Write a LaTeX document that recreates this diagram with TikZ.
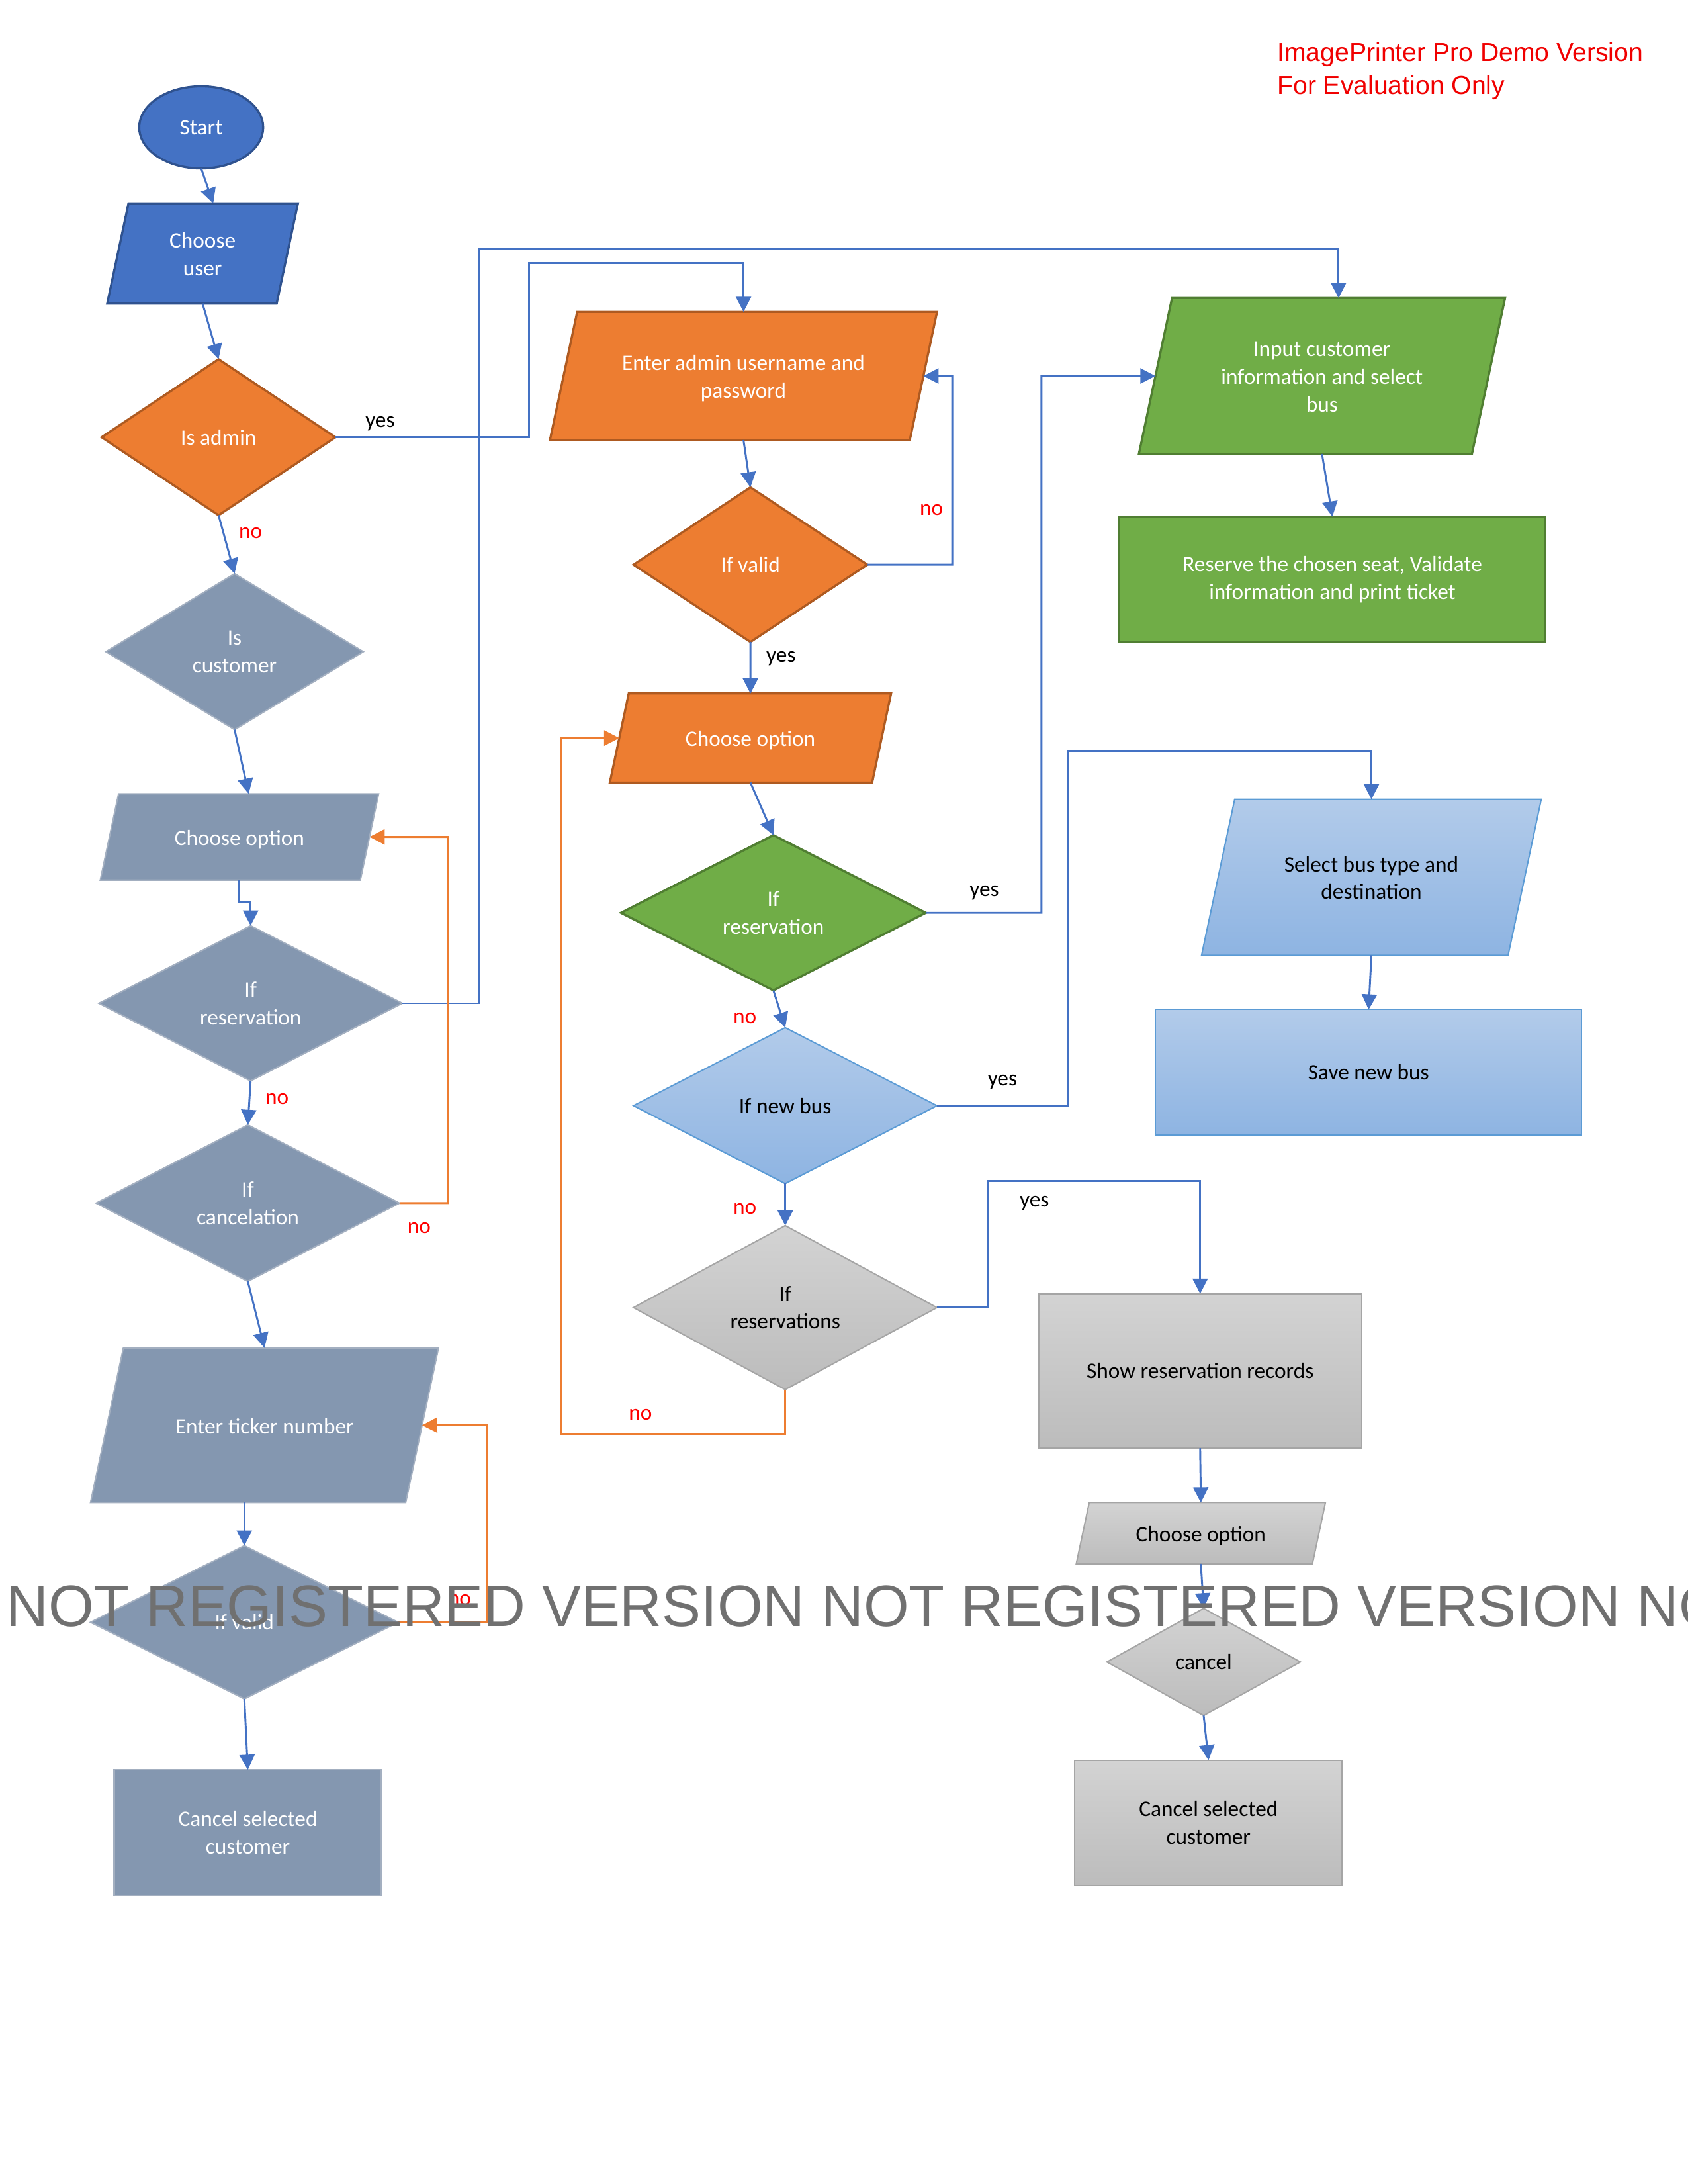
\documentclass[tikz,border=0pt]{standalone}
\usepackage{fontspec}
\setmainfont{Carlito}
\newfontfamily\wmfont{Liberation Sans}
\usetikzlibrary{shapes.geometric,arrows.meta}
\definecolor{bluefill}{HTML}{4472C4}
\definecolor{blueline}{HTML}{2F528F}
\definecolor{orfill}{HTML}{ED7D31}
\definecolor{orline}{HTML}{AE5A21}
\definecolor{grfill}{HTML}{70AD47}
\definecolor{grline}{HTML}{507E32}
\definecolor{slate}{HTML}{8497B0}
\definecolor{slateline}{HTML}{A3AFC0}
\definecolor{lbtop}{HTML}{B2CBEA}
\definecolor{lbbot}{HTML}{8EB4E2}
\definecolor{lbline}{HTML}{5B9BD5}
\definecolor{gytop}{HTML}{D3D3D3}
\definecolor{gybot}{HTML}{BCBCBC}
\definecolor{gyline}{HTML}{A5A5A5}
\definecolor{connblue}{HTML}{4472C4}
\definecolor{nored}{HTML}{FF0000}
\definecolor{wmgray}{HTML}{707070}
\definecolor{wmred}{HTML}{F00000}
\begin{document}
\begin{tikzpicture}
	[x=0.5049pt,y=-0.5049pt,
	sz/.style 2 args={minimum width=#1*0.5049pt,minimum height=#2*0.5049pt},
	iosz/.style n args={3}{minimum width=#1*0.5049pt,text height=(#3-1)*10pt+7pt,text depth=1pt,inner ysep=(#2*0.5049pt-(#3-1)*10pt-8pt)/2},
	box/.style={draw,line width=0.8pt,align=center,inner sep=1pt,outer sep=0pt,text=white,font=\fontsize{8}{10}\selectfont},
	io/.style={box,trapezium,trapezium left angle=78,trapezium right angle=102,trapezium stretches body},
	dec/.style={box,diamond},
	proc/.style={box,rectangle},
	term/.style={box,ellipse},
	bluebox/.style={fill=bluefill,draw=blueline},
	orbox/.style={fill=orfill,draw=orline},
	grbox/.style={fill=grfill,draw=grline},
	slbox/.style={fill=slate,draw=slateline,line width=0.5pt},
	lbbox/.style={top color=lbtop,bottom color=lbbot,draw=lbline,text=black,line width=0.5pt},
	gybox/.style={top color=gytop,bottom color=gybot,draw=gyline,text=black,line width=0.5pt},
	conn/.style={draw=connblue,line width=0.7pt,-{Triangle[length=5.5pt,width=5.5pt]}},
	connor/.style={conn,draw=orfill},
	yeslab/.style={font=\fontsize{8}{10}\selectfont,inner sep=0pt},
	nolab/.style={yeslab,text=nored}]
	\useasboundingbox(0,0)rectangle(1212,1568.4);
	\node[anchor=north west,inner sep=0pt,align=left,text=wmred,font=\wmfont\fontsize{9.4}{12}\selectfont,name=demo]at(917,30){ImagePrinter Pro Demo Version\\For Evaluation Only};
	% customer column
	\node[term,bluebox,sz={89}{59},name=start]at(144.5,91.5){Start};
	\node[io,bluebox,iosz={137}{72}{2},name=user]at(145.5,182){Choose\\user};
	\node[dec,orbox,sz={168}{112},name=isadmin]at(157,314){Is admin};
	\node[dec,slbox,sz={185}{112},name=iscust]at(168.5,468){Is\\customer};
	\node[io,slbox,iosz={200}{62}{1},name=opt1]at(172,601){Choose option};
	\node[dec,slbox,sz={218}{111},name=ifres1]at(180,720.5){If\\reservation};
	\node[dec,slbox,sz={218}{112},name=ifcancel]at(178,864){If\\cancelation};
	\node[io,slbox,iosz={250}{111}{1},name=ticket]at(190,1023.5){Enter ticker number};
	\node[dec,slbox,sz={221}{110},name=ifvalid1]at(175.5,1165){If valid};
	\node[proc,slbox,sz={192}{90},name=cancel1]at(178,1316){Cancel selected\\customer};
	% admin column
	\node[io,orbox,iosz={278}{92}{2},name=admin]at(534,270){Enter admin username and\\password};
	\node[dec,orbox,sz={168}{111},name=ifvalid2]at(539,405.5){If valid};
	\node[io,orbox,iosz={202}{64}{1},name=opt2]at(539,530){Choose option};
	\node[dec,grbox,sz={219}{111},name=ifres2]at(555.5,655.5){If\\reservation};
	\node[dec,lbbox,sz={218}{112},name=newbus]at(564,794){If new bus};
	\node[dec,gybox,sz={218}{112},name=ifresv]at(564,939){If\\reservations};
	% right column
	\node[io,grbox,iosz={263}{112}{3},name=input]at(949.5,270){Input customer\\information and select\\bus};
	\node[proc,grbox,sz={306}{90},name=reserve]at(957,416){Reserve the chosen seat, Validate\\information and print ticket};
	\node[io,lbbox,iosz={244}{112}{2},name=selbus]at(985,630){Select bus type and\\destination};
	\node[proc,lbbox,sz={306}{90},name=savebus]at(983,770){Save new bus};
	\node[proc,gybox,sz={232}{111},name=records]at(862,984.5){Show reservation records};
	\node[io,gybox,iosz={179}{44}{1},name=opt3]at(862.5,1101){Choose option};
	\node[dec,gybox,sz={139}{77},name=cancel]at(864.5,1193.5){cancel};
	\node[proc,gybox,sz={192}{90},name=cancel2]at(868,1309){Cancel selected\\customer};
	% labels
	\node[yeslab,name=y1]at(273,304){yes};
	\node[nolab,name=n1]at(180,383){no};
	\node[nolab,name=n2]at(199,789){no};
	\node[nolab,name=n3]at(301,882){no};
	\node[nolab,name=n4]at(330,1149){no};
	\node[nolab,name=n5]at(669,366){no};
	\node[yeslab,name=y2]at(561,473){yes};
	\node[yeslab,name=y3]at(707,641){yes};
	\node[nolab,name=n6]at(535,731){no};
	\node[yeslab,name=y4]at(720,777){yes};
	\node[nolab,name=n7]at(535,868){no};
	\node[yeslab,name=y5]at(743,864){yes};
	\node[nolab,name=n8]at(460,1016){no};
	% connectors
	\draw[conn](start.south)--(user.top side);
	\draw[conn](user.south)--(isadmin.north);
	\draw[conn](isadmin.south)--(iscust.north);
	\draw[conn](isadmin.east)-|(380,189)-|(admin.north);
	\draw[conn](iscust.south)--(opt1.top side);
	\draw[conn](opt1.south)--++(0,16)-|(ifres1.north);
	\draw[conn](ifres1.east)-|(344,179)-|(input.top side);
	\draw[conn](ifres1.south)--(ifcancel.north);
	\draw[connor](ifcancel.east)-|(322,601)--(opt1.east);
	\draw[conn](ifcancel.south)--(ticket.north);
	\draw[conn](ticket.south-|ifvalid1.north)--(ifvalid1.north);
	\draw[connor](ifvalid1.east)-|(350,1023)--(ticket.east);
	\draw[conn](ifvalid1.south)--(cancel1.north);
	\draw[conn](admin.south)--(ifvalid2.north);
	\draw[conn](ifvalid2.east)-|(684,270)--(admin.east);
	\draw[conn](ifvalid2.south)--(opt2.north);
	\draw[conn](opt2.south)--(ifres2.north);
	\draw[conn](ifres2.east)-|(748,270)--(input.west);
	\draw[conn](ifres2.south)--(newbus.north);
	\draw[conn](newbus.east)-|(767,539)-|(selbus.north);
	\draw[conn](newbus.south)--(ifresv.north);
	\draw[conn](ifresv.east)-|(710,848)-|(records.north);
	\draw[connor](ifresv.south)|-(403,1030)|-(opt2.west);
	\draw[conn](input.south)--(reserve.north);
	\draw[conn](selbus.south)--(savebus.north);
	\draw[conn](records.south)--(opt3.north);
	\draw[conn](opt3.south)--(cancel.north);
	\draw[conn](cancel.south)--(cancel2.north);
	% banner
	\begin{scope}
	\clip(0,0)rectangle(1212,1568.4);
	\node[anchor=base west,inner sep=0pt,text=wmgray,font=\wmfont\fontsize{21.2}{24}\selectfont,name=wm]at(4,1168){NOT REGISTERED VERSION NOT REGISTERED VERSION NOT};
	\end{scope}
\end{tikzpicture}
\end{document}
